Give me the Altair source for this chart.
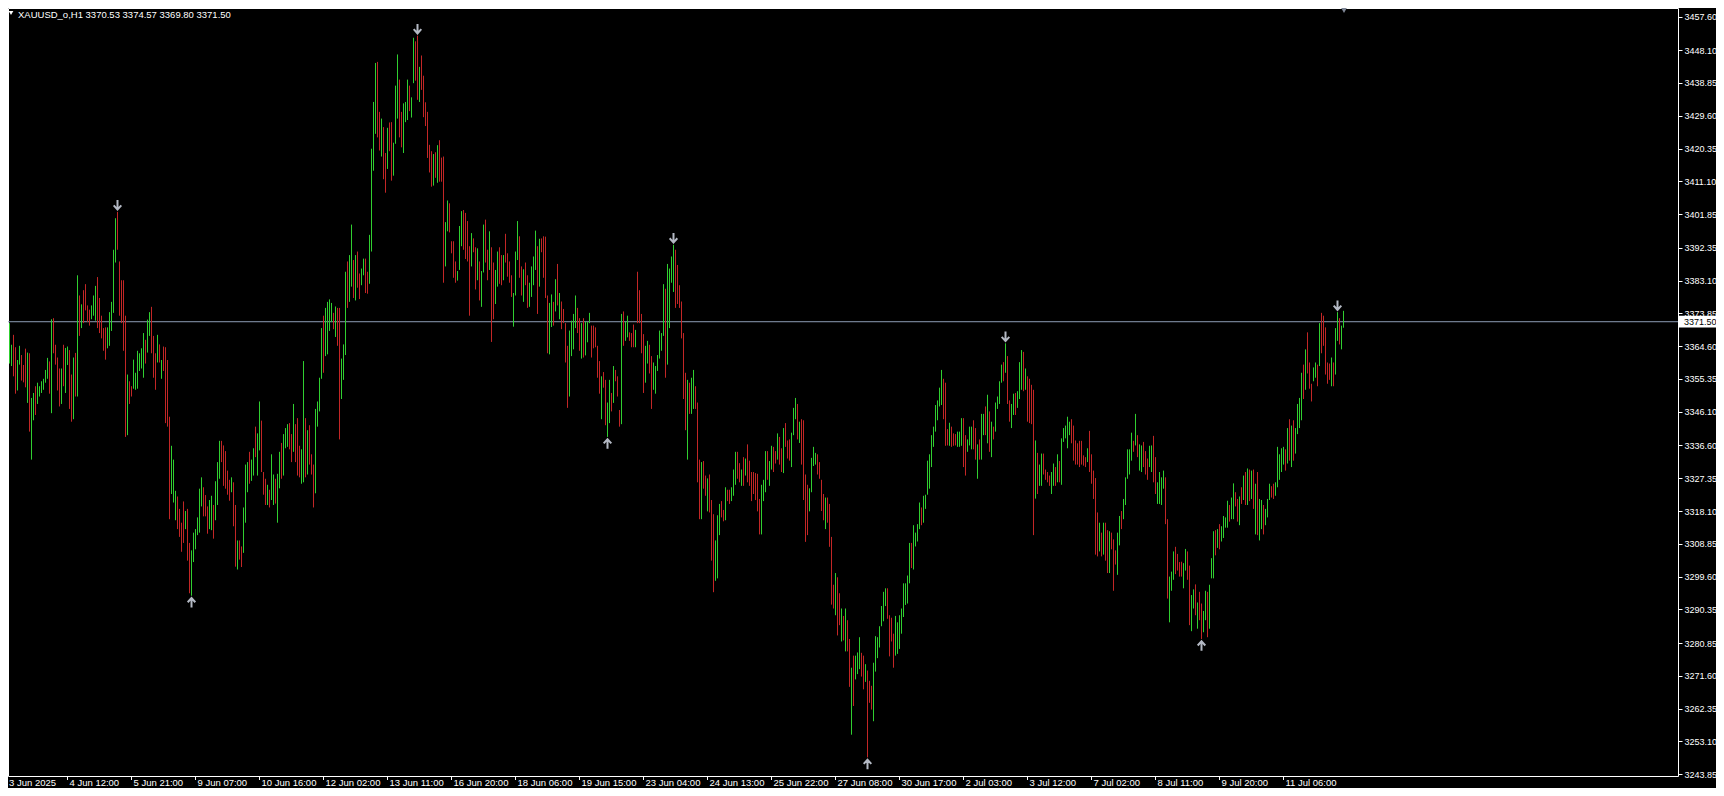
import altair as alt
import pandas as pd

# ---------------- data (XAUUSD H1 bars) ----------------
highs = [
    3388.5, 3376.1, 3377.8, 3371.1, 3365.0, 3367.8, 3364.3, 3360.7, 3364.7, 3362.1,
    3359.3, 3363.9, 3362.8, 3362.6, 3350.0, 3351.4, 3353.3, 3354.3, 3353.3, 3354.7,
    3355.4, 3357.9, 3361.3, 3360.3, 3372.2, 3372.5, 3365.0, 3361.4, 3358.3, 3358.3,
    3365.0, 3364.1, 3364.5, 3363.5, 3356.6, 3361.4, 3362.7, 3384.6, 3378.9, 3376.4,
    3380.4, 3382.1, 3376.1, 3374.9, 3376.1, 3378.9, 3381.6, 3384.1, 3378.2, 3373.2,
    3369.7, 3369.9, 3369.9, 3374.2, 3377.1, 3391.8, 3400.7, 3402.5, 3388.5, 3383.2,
    3383.2, 3373.2, 3356.6, 3354.7, 3353.3, 3360.8, 3357.1, 3363.3, 3362.6, 3364.0,
    3368.3, 3366.4, 3372.1, 3374.2, 3375.7, 3367.5, 3362.6, 3367.8, 3365.1, 3360.7,
    3364.5, 3364.3, 3360.7, 3344.7, 3336.5, 3332.6, 3323.8, 3322.2, 3318.7, 3314.8,
    3320.8, 3318.1, 3318.7, 3309.1, 3307.0, 3312.0, 3313.0, 3316.3, 3324.4, 3327.6,
    3324.8, 3322.6, 3319.4, 3321.2, 3322.4, 3319.8, 3326.5, 3331.9, 3337.9, 3337.9,
    3336.6, 3335.0, 3329.5, 3326.9, 3327.6, 3326.2, 3319.8, 3309.8, 3309.8, 3308.1,
    3319.1, 3331.2, 3331.9, 3334.8, 3332.6, 3335.8, 3341.9, 3340.0, 3349.0, 3343.6,
    3329.1, 3327.2, 3325.5, 3324.1, 3334.1, 3328.4, 3327.2, 3328.6, 3334.8, 3337.3,
    3339.8, 3341.5, 3342.6, 3342.9, 3339.8, 3348.3, 3342.6, 3344.3, 3336.5, 3335.5,
    3360.4, 3344.3, 3340.9, 3342.3, 3334.1, 3331.2, 3346.9, 3349.0, 3355.7, 3369.7,
    3373.2, 3375.4, 3377.1, 3377.8, 3376.8, 3374.0, 3375.8, 3375.4, 3375.4, 3361.1,
    3365.1, 3385.6, 3388.5, 3390.3, 3398.9, 3388.9, 3390.3, 3391.3, 3385.1, 3386.5,
    3389.3, 3389.3, 3385.6, 3396.0, 3420.3, 3433.5, 3444.5, 3444.8, 3430.7, 3428.8,
    3426.4, 3419.1, 3426.2, 3427.7, 3427.8, 3422.0, 3438.1, 3446.9, 3439.8, 3430.7,
    3433.1, 3433.5, 3439.8, 3438.1, 3434.8, 3451.6, 3450.6, 3452.2, 3443.4, 3446.6,
    3440.9, 3433.4, 3430.7, 3421.4, 3419.6, 3418.8, 3419.3, 3421.3, 3422.7, 3417.8,
    3418.1, 3399.6, 3405.7, 3404.9, 3394.2, 3394.2, 3388.5, 3385.8, 3398.5, 3402.7,
    3403.0, 3402.2, 3399.9, 3392.8, 3396.5, 3395.0, 3392.5, 3392.2, 3388.5, 3385.8,
    3398.9, 3400.3, 3391.8, 3397.0, 3392.5, 3388.2, 3386.1, 3391.3, 3392.5, 3390.3,
    3390.3, 3396.3, 3390.8, 3388.5, 3384.6, 3379.6, 3391.3, 3399.9, 3395.6, 3387.1,
    3386.3, 3388.2, 3384.6, 3382.5, 3387.1, 3389.9, 3397.2, 3392.8, 3394.9, 3395.0,
    3395.6, 3395.5, 3378.9, 3376.8, 3379.2, 3377.1, 3383.5, 3387.8, 3379.6, 3377.2,
    3375.1, 3371.1, 3364.7, 3369.0, 3371.8, 3373.7, 3378.9, 3375.4, 3372.5, 3371.1,
    3372.5, 3371.5, 3371.4, 3374.0, 3370.4, 3370.4, 3369.9, 3364.7, 3360.4, 3356.1,
    3357.3, 3355.1, 3348.7, 3355.1, 3351.4, 3359.0, 3357.9, 3356.1, 3346.6, 3373.7,
    3374.4, 3371.5, 3373.2, 3368.5, 3368.3, 3370.7, 3369.2, 3385.6, 3380.4, 3373.7,
    3368.0, 3364.7, 3366.1, 3365.0, 3361.8, 3360.0, 3359.0, 3362.1, 3369.0, 3368.3,
    3382.1, 3380.8, 3387.8, 3386.5, 3389.9, 3393.2, 3391.8, 3387.5, 3381.8, 3377.2,
    3368.3, 3357.1, 3355.1, 3354.3, 3355.7, 3357.9, 3353.3, 3348.7, 3332.6, 3331.9,
    3332.2, 3328.1, 3327.3, 3328.4, 3321.2, 3317.2, 3309.8, 3316.9, 3320.1, 3320.9,
    3318.4, 3324.8, 3324.1, 3324.1, 3324.8, 3329.8, 3334.8, 3334.8, 3331.6, 3329.8,
    3333.3, 3332.9, 3336.9, 3332.3, 3329.1, 3329.1, 3328.8, 3328.6, 3321.5, 3325.5,
    3326.9, 3335.0, 3335.0, 3332.2, 3336.5, 3336.2, 3335.0, 3340.0, 3339.0, 3335.8,
    3341.5, 3342.9, 3338.0, 3338.3, 3340.2, 3347.2, 3350.0, 3348.3, 3343.3, 3344.0,
    3343.7, 3328.4, 3325.5, 3324.5, 3333.1, 3336.2, 3334.5, 3334.1, 3331.9, 3326.9,
    3322.9, 3321.9, 3321.9, 3320.1, 3310.8, 3297.3, 3300.6, 3299.4, 3294.9, 3290.6,
    3288.5, 3290.6, 3287.3, 3282.0, 3273.9, 3277.3, 3277.3, 3278.2, 3282.5, 3278.1,
    3277.3, 3274.9, 3273.1, 3270.2, 3268.8, 3275.3, 3282.8, 3282.5, 3285.6, 3291.3,
    3295.3, 3296.3, 3296.3, 3288.7, 3288.0, 3283.5, 3288.5, 3286.7, 3288.7, 3290.6,
    3297.7, 3297.7, 3299.9, 3309.1, 3309.1, 3314.1, 3312.0, 3314.4, 3320.5, 3319.1,
    3322.4, 3322.7, 3332.3, 3334.1, 3339.5, 3341.9, 3348.0, 3349.3, 3352.9, 3357.9,
    3355.4, 3354.3, 3341.2, 3343.0, 3341.9, 3340.0, 3339.8, 3340.5, 3340.5, 3344.3,
    3344.3, 3339.5, 3338.3, 3341.9, 3341.9, 3343.7, 3341.5, 3336.9, 3338.3, 3345.5,
    3345.5, 3347.6, 3350.9, 3346.2, 3343.3, 3341.9, 3348.7, 3350.4, 3354.7, 3359.4,
    3360.1, 3365.4, 3361.8, 3349.3, 3348.3, 3351.2, 3351.4, 3351.9, 3360.1, 3363.5,
    3363.0, 3358.3, 3356.1, 3355.4, 3353.7, 3352.3, 3338.0, 3334.5, 3331.2, 3334.3,
    3334.3, 3329.8, 3329.1, 3328.1, 3329.1, 3331.5, 3330.5, 3334.1, 3332.2, 3338.6,
    3341.5, 3342.2, 3344.7, 3343.3, 3344.0, 3342.2, 3338.0, 3337.2, 3337.9, 3337.9,
    3333.8, 3333.3, 3335.8, 3340.7, 3334.1, 3329.5, 3327.4, 3317.7, 3314.8, 3312.0,
    3314.8, 3314.8, 3312.7, 3312.4, 3312.0, 3310.1, 3307.0, 3312.0, 3316.7, 3318.1,
    3321.5, 3327.6, 3335.5, 3335.5, 3340.2, 3337.9, 3345.5, 3339.5, 3336.9, 3336.6,
    3337.6, 3335.0, 3332.9, 3336.5, 3336.6, 3339.3, 3333.3, 3326.2, 3329.1, 3327.6,
    3329.5, 3327.6, 3315.8, 3299.6, 3301.0, 3306.7, 3308.0, 3306.0, 3303.7, 3303.8,
    3303.4, 3307.4, 3306.7, 3302.7, 3294.4, 3296.0, 3297.4, 3292.3, 3295.3, 3292.0,
    3289.9, 3295.6, 3295.3, 3297.3, 3304.8, 3312.4, 3312.7, 3313.0, 3314.4, 3313.8,
    3316.7, 3316.3, 3321.0, 3319.8, 3321.9, 3325.9, 3323.4, 3321.5, 3322.2, 3324.8,
    3328.1, 3329.1, 3330.1, 3329.8, 3329.5, 3329.8, 3325.8, 3329.1, 3321.5, 3321.2,
    3319.8, 3318.7, 3321.5, 3325.8, 3325.1, 3325.8, 3326.2, 3336.2, 3334.1, 3335.8,
    3336.2, 3335.5, 3341.5, 3344.0, 3342.2, 3343.7, 3341.5, 3348.3, 3350.0, 3357.1,
    3359.4, 3363.7, 3368.5, 3360.0, 3354.0, 3358.6, 3360.0, 3359.4, 3371.1, 3374.0,
    3373.2, 3369.9, 3360.0, 3359.7, 3361.4, 3360.0, 3369.7, 3374.2, 3372.5, 3370.4,
    3374.57,
]

lows = [
    3374.0, 3364.0, 3363.3, 3359.7, 3359.0, 3356.1, 3351.2, 3352.1, 3359.4, 3354.9,
    3354.4, 3353.0, 3348.6, 3340.5, 3332.6, 3343.7, 3345.2, 3348.3, 3350.4, 3351.4,
    3352.3, 3354.3, 3355.4, 3351.2, 3345.7, 3362.6, 3359.4, 3352.1, 3347.6, 3348.3,
    3353.3, 3351.4, 3359.3, 3346.9, 3343.3, 3344.0, 3350.4, 3350.4, 3367.5, 3369.7,
    3371.1, 3374.7, 3371.4, 3370.4, 3372.2, 3373.2, 3371.8, 3369.7, 3368.3, 3366.8,
    3363.3, 3360.8, 3364.0, 3364.7, 3368.9, 3374.0, 3388.2, 3391.8, 3373.2, 3371.1,
    3363.3, 3339.0, 3339.5, 3348.3, 3350.4, 3352.6, 3352.3, 3352.6, 3357.6, 3358.3,
    3355.7, 3359.7, 3362.8, 3367.5, 3362.6, 3355.7, 3352.3, 3360.0, 3360.0, 3355.4,
    3357.6, 3342.9, 3341.9, 3315.8, 3322.9, 3320.5, 3315.5, 3313.0, 3310.8, 3306.6,
    3309.1, 3313.0, 3304.1, 3294.9, 3294.2, 3303.7, 3307.3, 3311.3, 3312.0, 3319.4,
    3316.6, 3316.6, 3311.7, 3313.0, 3312.7, 3310.3, 3315.5, 3319.8, 3327.2, 3331.9,
    3325.2, 3324.4, 3322.7, 3321.0, 3323.4, 3313.8, 3302.4, 3301.6, 3304.4, 3302.3,
    3306.3, 3314.8, 3323.4, 3325.8, 3326.6, 3328.1, 3333.3, 3328.1, 3335.2, 3329.1,
    3322.7, 3319.8, 3319.8, 3319.1, 3321.2, 3319.8, 3320.2, 3314.8, 3324.5, 3327.2,
    3328.1, 3335.8, 3336.2, 3335.5, 3331.9, 3334.8, 3331.9, 3328.1, 3327.6, 3325.8,
    3326.2, 3327.6, 3328.4, 3331.2, 3328.4, 3319.1, 3323.1, 3341.9, 3346.2, 3355.4,
    3357.1, 3361.8, 3362.3, 3368.9, 3371.4, 3369.4, 3367.2, 3364.7, 3338.3, 3349.7,
    3355.1, 3362.1, 3375.4, 3377.1, 3381.4, 3378.2, 3377.5, 3381.1, 3377.9, 3381.8,
    3384.6, 3379.6, 3379.4, 3382.2, 3391.3, 3414.1, 3424.5, 3423.5, 3419.8, 3418.1,
    3411.7, 3407.9, 3414.6, 3419.6, 3411.3, 3412.7, 3421.7, 3428.8, 3423.5, 3420.7,
    3419.1, 3427.8, 3428.4, 3430.9, 3429.1, 3438.8, 3439.5, 3434.1, 3433.5, 3436.9,
    3429.2, 3426.7, 3417.7, 3413.6, 3409.6, 3409.9, 3412.1, 3410.7, 3411.0, 3411.0,
    3382.5, 3387.1, 3397.0, 3396.7, 3390.8, 3383.9, 3382.5, 3383.1, 3386.1, 3392.8,
    3391.8, 3389.2, 3388.5, 3373.2, 3387.1, 3391.1, 3380.6, 3383.2, 3377.5, 3375.7,
    3385.4, 3388.2, 3383.2, 3386.1, 3365.8, 3372.2, 3376.5, 3381.4, 3382.2, 3381.8,
    3383.2, 3388.2, 3384.2, 3382.5, 3378.5, 3370.1, 3378.9, 3388.9, 3383.9, 3378.9,
    3377.1, 3381.8, 3375.4, 3375.7, 3378.5, 3381.8, 3386.1, 3373.7, 3381.4, 3391.1,
    3383.9, 3378.2, 3362.6, 3362.3, 3370.0, 3370.4, 3374.4, 3376.1, 3372.2, 3369.4,
    3371.1, 3360.0, 3347.2, 3350.4, 3361.8, 3363.7, 3369.7, 3368.3, 3363.3, 3361.1,
    3361.4, 3362.0, 3365.7, 3371.1, 3361.4, 3364.0, 3364.3, 3355.7, 3351.2, 3344.0,
    3352.9, 3342.3, 3339.0, 3342.9, 3346.2, 3348.6, 3354.7, 3350.4, 3341.9, 3342.6,
    3364.7, 3366.1, 3367.1, 3366.1, 3364.3, 3364.3, 3364.3, 3371.1, 3371.1, 3362.6,
    3351.4, 3354.3, 3359.7, 3356.9, 3346.9, 3352.3, 3351.2, 3357.6, 3361.1, 3363.3,
    3367.5, 3355.7, 3359.4, 3369.7, 3382.5, 3379.9, 3375.4, 3376.5, 3375.4, 3366.8,
    3349.7, 3340.9, 3332.6, 3345.5, 3345.5, 3346.9, 3346.9, 3326.2, 3315.8, 3315.8,
    3324.4, 3322.4, 3318.0, 3317.7, 3304.1, 3295.2, 3298.4, 3299.1, 3311.3, 3316.3,
    3315.2, 3315.5, 3320.9, 3320.1, 3320.9, 3322.4, 3325.5, 3327.2, 3326.2, 3325.2,
    3325.2, 3328.1, 3326.2, 3325.2, 3320.9, 3322.9, 3321.2, 3318.0, 3311.5, 3311.5,
    3320.9, 3323.4, 3326.9, 3325.2, 3329.8, 3329.1, 3331.5, 3332.6, 3331.2, 3329.1,
    3328.8, 3336.2, 3332.9, 3332.3, 3330.5, 3339.5, 3344.0, 3338.3, 3337.3, 3331.2,
    3321.2, 3309.4, 3311.3, 3318.0, 3323.4, 3330.8, 3331.2, 3328.4, 3327.2, 3318.1,
    3315.5, 3313.0, 3314.8, 3308.0, 3291.7, 3290.6, 3288.7, 3283.0, 3285.9, 3281.3,
    3281.6, 3278.5, 3278.5, 3268.5, 3255.0, 3263.1, 3270.6, 3272.1, 3273.5, 3271.4,
    3267.8, 3269.9, 3248.6, 3264.0, 3262.1, 3258.8, 3272.8, 3276.6, 3279.6, 3285.6,
    3287.0, 3291.3, 3287.7, 3277.1, 3281.3, 3273.9, 3277.3, 3277.8, 3279.2, 3283.5,
    3288.2, 3291.6, 3292.0, 3297.7, 3302.0, 3301.6, 3308.1, 3309.5, 3313.0, 3314.1,
    3314.8, 3318.7, 3322.7, 3324.4, 3330.5, 3336.2, 3340.5, 3343.7, 3347.6, 3348.0,
    3344.0, 3336.5, 3336.6, 3336.5, 3336.2, 3336.5, 3336.6, 3336.2, 3336.2, 3336.5,
    3330.5, 3328.1, 3334.8, 3336.6, 3335.5, 3335.5, 3332.6, 3327.2, 3332.6, 3332.6,
    3339.5, 3339.5, 3337.2, 3334.8, 3333.3, 3338.3, 3340.5, 3346.9, 3348.3, 3354.3,
    3354.7, 3357.1, 3348.3, 3343.3, 3341.5, 3345.2, 3345.2, 3347.2, 3349.7, 3352.3,
    3351.9, 3352.3, 3343.3, 3342.9, 3342.6, 3311.3, 3321.6, 3322.9, 3325.2, 3325.2,
    3328.4, 3326.9, 3326.2, 3325.2, 3322.9, 3325.2, 3325.2, 3326.2, 3326.2, 3325.5,
    3337.6, 3338.6, 3335.8, 3339.5, 3337.2, 3332.3, 3331.2, 3331.2, 3330.5, 3331.2,
    3330.9, 3330.5, 3331.9, 3329.1, 3325.8, 3321.5, 3305.8, 3305.3, 3306.7, 3305.3,
    3305.8, 3304.1, 3300.6, 3300.6, 3307.3, 3295.6, 3303.0, 3300.1, 3308.4, 3313.0,
    3315.8, 3319.8, 3327.2, 3328.4, 3332.3, 3334.8, 3336.6, 3333.3, 3329.5, 3329.1,
    3330.5, 3328.4, 3326.9, 3330.5, 3329.1, 3326.2, 3322.9, 3320.1, 3320.1, 3319.8,
    3324.4, 3314.4, 3293.4, 3286.7, 3295.6, 3298.7, 3300.3, 3301.3, 3299.6, 3299.6,
    3296.3, 3301.3, 3298.7, 3285.9, 3284.2, 3290.6, 3288.7, 3284.9, 3287.3, 3282.0,
    3283.9, 3287.3, 3282.5, 3284.9, 3299.1, 3299.1, 3305.6, 3307.7, 3307.3, 3309.5,
    3310.5, 3313.4, 3313.4, 3315.1, 3315.8, 3315.8, 3319.4, 3315.1, 3314.1, 3320.1,
    3321.2, 3319.8, 3319.8, 3320.9, 3321.5, 3318.7, 3311.5, 3311.3, 3309.8, 3313.0,
    3311.5, 3314.1, 3316.3, 3321.2, 3321.9, 3321.5, 3322.4, 3324.8, 3326.9, 3329.1,
    3331.2, 3329.5, 3331.5, 3332.3, 3330.5, 3332.3, 3334.3, 3339.8, 3341.5, 3343.7,
    3349.7, 3352.3, 3356.9, 3352.6, 3349.0, 3354.7, 3355.7, 3353.3, 3359.0, 3362.6,
    3364.7, 3356.6, 3354.0, 3355.1, 3353.3, 3353.3, 3356.6, 3366.1, 3365.1, 3363.7,
    3369.80,
]

# g = bullish bar (close above open), r = bearish bar
dirs = "".join([
    "rrrggrrggr", "rrgrggrggg", "gggrgrrrrg", "rggrrgrgrg", "rrrrgggrrr",
    "rrgggggrrr", "rrgrrggggg", "grggrrrgrg", "rrrrgggrrr", "rgrrggggg", "g",
    "rrrggrgggr", "rrrrgrrgrr", "gggrggrggr", "rrgrggrggr", "gggrrgrrrg",
    "grgrrrgggg", "rggggrgrrg", "ggrggrgrrg", "grrggggrrg", "rrgrrgggrr",
    "gggrggrrgr", "rrrrrgrgrr", "rggrrrrggg", "rrrrgrrgrg", "grrgrrggrr",
    "grrrrgggrr", "grrggggrgr", "rrrggrgrgr", "rrrggggrrg", "rgggrrrrrg",
    "rrggrgrrrg", "rggrrrgrrr", "rggrrggggg", "grggggrrrr", "rrgrggrrrg",
    "rrgrrrgggr", "rgrrgggrrg", "rgrrrrrrrg", "ggrggrrgrr", "grrrgggrgr",
    "rrrggggrrr", "rgrrrrgrrg", "rgrrgrgggr", "rgrrrggggg", "ggrrrrgggg",
    "ggggrggggr", "gggggggggg", "rrrgrrrggg", "rrgggrrgrg", "grgrgrgggg",
    "rgrrggrggg", "rgrrrrgrgg", "rrrrggrgrg", "ggggrrrrrr", "rrgrrrrrgr",
    "grrgrrrggr", "gggggrgrgg", "rrrggrrggg", "grrgggrrrr", "ggrrggrgrr",
    "ggrgggrgrg", "gggrggrrgr", "grgrgrgrgg", "rgggrrgggg", "grgrgrgggg",
    "rgrrrggrgr", "rrrrgrggrgg",
])

fractal_down_idx = [57, 207, 335, 501, 667]   # arrows above swing highs
fractal_up_idx = [94, 302, 432, 599]          # arrows below swing lows

price_ticks = [3457.60, 3448.10, 3438.85, 3429.60, 3420.35, 3411.10, 3401.85,
               3392.35, 3383.10, 3373.85, 3364.60, 3355.35, 3346.10, 3336.60,
               3327.35, 3318.10, 3308.85, 3299.60, 3290.35, 3280.85, 3271.60,
               3262.35, 3253.10, 3243.85]

time_labels = ["3 Jun 2025", "4 Jun 12:00", "5 Jun 21:00", "9 Jun 07:00",
               "10 Jun 16:00", "12 Jun 02:00", "13 Jun 11:00", "16 Jun 20:00",
               "18 Jun 06:00", "19 Jun 15:00", "23 Jun 04:00", "24 Jun 13:00",
               "25 Jun 22:00", "27 Jun 08:00", "30 Jun 17:00", "2 Jul 03:00",
               "3 Jul 12:00", "7 Jul 02:00", "8 Jul 11:00", "9 Jul 20:00",
               "11 Jul 06:00"]
time_label_idx = [0, 32, 64, 96, 128, 160, 192, 224, 256, 288, 320, 352, 384,
                  416, 448, 480, 512, 544, 576, 608, 640]

symbol = "XAUUSD_o,H1"
last_ohlc = [3370.53, 3374.57, 3369.80, 3371.50]
last_price = 3371.50

assert len(highs) == len(lows) == len(dirs), (len(highs), len(lows), len(dirs))

# ---------------- styling ----------------
W, H = 1670, 768
GREEN = "#30cf30"
RED = "#c22626"
LINE = "#8d9db5"
ARROW = "#b4b9c4"
FONT = "Liberation Sans"
FS = 9.5
AFS = 9

bars = pd.DataFrame({
    "i": list(range(len(highs))),
    "price": highs,
    "price2": lows,
    "dir": list(dirs),
})
down_df = pd.DataFrame({"i": fractal_down_idx,
                        "price": [highs[k] for k in fractal_down_idx]})
up_df = pd.DataFrame({"i": fractal_up_idx,
                      "price": [lows[k] for k in fractal_up_idx]})
line_df = pd.DataFrame({"price": [last_price]})
tl_df = pd.DataFrame({"i": time_label_idx, "label": time_labels})
title_df = pd.DataFrame({"t": [symbol + "  " + " ".join(f"{v:.2f}" for v in last_ohlc)]})

xscale = alt.Scale(domain=[2.25, 2.25 + W / 2], nice=False, zero=False)
yscale = alt.Scale(domain=[3243.35, 3460.0], nice=False, zero=False)
y_axis = alt.Axis(orient="right", values=price_ticks, format=".2f", title="",
                  grid=False, domain=False, ticks=True, tickSize=4,
                  tickColor="white", labelColor="white", labelFont=FONT,
                  labelFontSize=AFS, labelPadding=2, labelOverlap=False,
                  labelFlush=False, labelBound=False)
X = alt.X("i:Q", scale=xscale, axis=None)
Y = alt.Y("price:Q", scale=yscale, axis=y_axis)

price_line = alt.Chart(line_df).mark_rule(color=LINE, strokeWidth=1).encode(y=Y)

bar_layer = alt.Chart(bars).mark_rule(strokeWidth=1, clip=True).encode(
    x=X, y=Y, y2="price2:Q",
    color=alt.Color("dir:N", scale=alt.Scale(domain=["g", "r"], range=[GREEN, RED]),
                    legend=None),
)

down_shape = "M0,-1L0,1M-0.8,0.1L0,1L0.8,0.1"
up_shape = "M0,1L0,-1M-0.8,-0.1L0,-1L0.8,-0.1"
down_layer = alt.Chart(down_df).mark_point(
    shape=down_shape, filled=False, color=ARROW, strokeWidth=2, size=90,
    yOffset=-7, opacity=1).encode(x=X, y=Y)
up_layer = alt.Chart(up_df).mark_point(
    shape=up_shape, filled=False, color=ARROW, strokeWidth=2, size=90,
    yOffset=7, opacity=1).encode(x=X, y=Y)

box = alt.Chart(line_df).mark_point(
    shape="M-1,-0.31L1,-0.31L1,0.31L-1,0.31Z", filled=True, color="white",
    size=1444, opacity=1).encode(y=Y, x=alt.value(W + 20))
box_text = alt.Chart(line_df).mark_text(
    align="left", baseline="middle", color="black", font=FONT, fontSize=AFS).encode(
    y=Y, x=alt.value(W + 6), text=alt.Text("price:Q", format=".2f"))

tick_layer = alt.Chart(tl_df).mark_rule(color="white", strokeWidth=1).encode(
    x=X, y=alt.value(H), y2=alt.value(H + 4))
label_layer = alt.Chart(tl_df.iloc[1:]).mark_text(
    align="left", baseline="middle", dx=2, color="white", font=FONT, fontSize=FS).encode(
    x=X, y=alt.value(H + 7), text="label:N")
first_label = alt.Chart(tl_df.iloc[:1]).mark_text(
    align="left", baseline="middle", color="white", font=FONT, fontSize=FS).encode(
    x=alt.value(1), y=alt.value(H + 7), text="label:N")

title_tri = alt.Chart(title_df).mark_point(
    shape="triangle-down", filled=True, color="white", size=22, opacity=1).encode(
    x=alt.value(3), y=alt.value(5))
title_text = alt.Chart(title_df).mark_text(
    align="left", baseline="middle", color="white", font=FONT, fontSize=FS).encode(
    x=alt.value(10), y=alt.value(6.5), text="t:N")
shift_mark = alt.Chart(title_df).mark_point(
    shape="triangle-down", filled=True, color="#7f8796", size=45, opacity=1).encode(
    x=alt.value(1336), y=alt.value(2))

chart = alt.layer(
    price_line, bar_layer, down_layer, up_layer, box, box_text,
    tick_layer, label_layer, first_label, title_tri, title_text, shift_mark,
).properties(
    width=W, height=H, background="black",
    padding={"left": 0, "top": 0, "right": 38, "bottom": 12},
    autosize=alt.AutoSizeParams(type="none"),
).configure_view(stroke="white", strokeWidth=1, fill="black")

chart.save("out.html", embed_options={"renderer": "svg", "actions": False})
